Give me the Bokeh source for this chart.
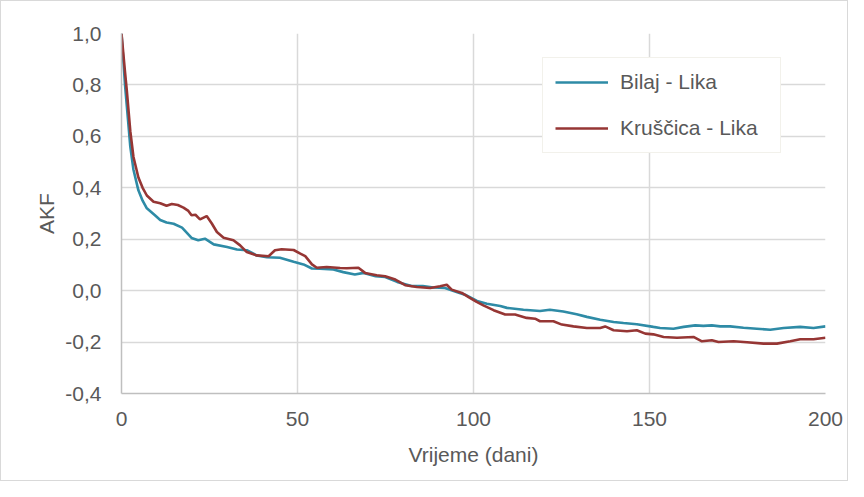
from bokeh.plotting import figure
from bokeh.models import Range1d, FixedTicker, CustomJSTickFormatter, Legend, LegendItem
from bokeh.embed import file_html
from bokeh.resources import INLINE

# Data
bilaj_days = [0, 1, 1.5, 2.5, 3.4, 4.8, 6, 7.2, 9.5, 11, 12.8, 14.8, 17.2, 19.9, 21.8, 23.7,
              26.2, 30, 32.8, 35.6, 38.4, 41.3, 45, 48.9, 51.7, 54.1, 56.4, 60.2, 63, 66.3,
              68.8, 72.2, 74.9, 78.3, 82.4, 85.6, 88.6, 91.9, 95.2, 98, 101, 103.8, 107.6,
              109.5, 114.2, 118.9, 121.7, 125.5, 129.3, 132.2, 136, 139.8, 142.6, 146.4,
              151.1, 153, 156.8, 159.7, 163, 165.3, 167.7, 170.1, 172.9, 176.7, 180.5,
              184.3, 188.1, 192.8, 196.6, 200]
bilaj_akf = [1.0, 0.80, 0.72, 0.56, 0.47, 0.39, 0.35, 0.32, 0.293, 0.275, 0.265, 0.26, 0.245,
             0.205, 0.196, 0.202, 0.18, 0.17, 0.16, 0.157, 0.137, 0.13, 0.128, 0.112, 0.102,
             0.086, 0.085, 0.082, 0.072, 0.063, 0.069, 0.056, 0.053, 0.034, 0.018, 0.018,
             0.012, 0.010, -0.005, -0.018, -0.040, -0.051, -0.060, -0.067, -0.074, -0.079,
             -0.074, -0.081, -0.092, -0.102, -0.113, -0.122, -0.126, -0.131, -0.141, -0.145,
             -0.148, -0.141, -0.135, -0.137, -0.135, -0.139, -0.139, -0.144, -0.148, -0.152,
             -0.145, -0.141, -0.145, -0.139]

kruscica_days = [0, 1, 1.5, 2.5, 3.4, 4.8, 6, 7.2, 9.1, 11, 12.8, 14.3, 16, 17.6, 19, 19.9,
                 21, 22.3, 24.2, 25.7, 27.1, 29, 31.8, 33.7, 35.6, 38.4, 41.8, 43.6, 45.5,
                 48.9, 50.8, 52.2, 54.1, 55.5, 58.3, 62.1, 64, 67.3, 69.2, 72.5, 74.9, 77.8,
                 80.6, 83.9, 87.7, 90.5, 92.4, 93.8, 96.7, 98.6, 100.9, 102.8, 105.7, 109,
                 111.8, 115.1, 117.5, 118.9, 122.7, 125.1, 128.4, 132.2, 136, 137.4, 139.8,
                 143.6, 146.4, 148.8, 151.1, 154, 157.8, 162.5, 164.9, 167.7, 169.6, 173.9,
                 177.7, 182.4, 186.2, 190, 192.8, 196.6, 200]
kruscica_akf = [1.0, 0.85, 0.78, 0.62, 0.52, 0.44, 0.40, 0.37, 0.346, 0.34, 0.33, 0.337, 0.333,
                0.323, 0.31, 0.293, 0.295, 0.277, 0.29, 0.26, 0.228, 0.206, 0.196, 0.176,
                0.15, 0.137, 0.134, 0.157, 0.161, 0.158, 0.144, 0.134, 0.102, 0.089, 0.092,
                0.088, 0.087, 0.089, 0.069, 0.06, 0.056, 0.043, 0.021, 0.014, 0.01, 0.017,
                0.023, 0.004, -0.009, -0.025, -0.044, -0.057, -0.076, -0.093, -0.093, -0.106,
                -0.109, -0.119, -0.119, -0.132, -0.139, -0.145, -0.145, -0.139, -0.154,
                -0.158, -0.154, -0.167, -0.17, -0.18, -0.183, -0.18, -0.197, -0.193, -0.2,
                -0.197, -0.201, -0.206, -0.206, -0.197, -0.189, -0.189, -0.183]

x_ticks = [0, 50, 100, 150, 200]
y_ticks = [-0.4, -0.2, 0.0, 0.2, 0.4, 0.6, 0.8, 1.0]
series_names = ["Bilaj - Lika", "Kruščica - Lika"]
x_title = "Vrijeme (dani)"
y_title = "AKF"

TEXT = "#595959"
FONT = "Liberation Sans"
FS = "21px"

p = figure(width=848, height=481, output_backend="svg", toolbar_location=None,
           x_range=Range1d(0, 200), y_range=Range1d(-0.4, 1.0),
           min_border_left=120, min_border_right=24, min_border_top=32, min_border_bottom=89)
p.outline_line_color = None
p.styles = {"border": "1px solid #d9d9d9", "box-sizing": "border-box"}

r1 = p.line(bilaj_days, bilaj_akf, line_color="#2E8BA6", line_width=2.6)
r2 = p.line(kruscica_days, kruscica_akf, line_color="#963634", line_width=2.6)

for ax in (p.xaxis[0], p.yaxis[0]):
    ax.axis_line_color = "#bfbfbf"
    ax.axis_line_width = 1.5
    ax.major_tick_line_color = None
    ax.minor_tick_line_color = None
    ax.major_label_text_font = FONT
    ax.major_label_text_font_size = FS
    ax.major_label_text_color = TEXT
    ax.axis_label_text_font = FONT
    ax.axis_label_text_font_size = FS
    ax.axis_label_text_color = TEXT
    ax.axis_label_text_font_style = "normal"

p.xaxis.ticker = FixedTicker(ticks=x_ticks)
p.yaxis.ticker = FixedTicker(ticks=y_ticks)
p.yaxis.formatter = CustomJSTickFormatter(
    code="var v = Math.abs(tick) < 1e-9 ? 0 : tick; return v.toFixed(1).replace('.', ',');")
p.xaxis.axis_label = x_title
p.yaxis.axis_label = y_title
p.xaxis.major_label_standoff = 12
p.yaxis.major_label_standoff = 14
p.xaxis.axis_label_standoff = 14
p.yaxis.axis_label_standoff = 4

p.xgrid.ticker = FixedTicker(ticks=x_ticks)
p.ygrid.ticker = FixedTicker(ticks=y_ticks)
p.grid.grid_line_color = "#d9d9d9"
p.grid.grid_line_width = 1.5

legend = Legend(items=[LegendItem(label=series_names[0], renderers=[r1]),
                       LegendItem(label=series_names[1], renderers=[r2])],
                location=(421, 240), orientation="vertical")
legend.glyph_width = 53
legend.glyph_height = 20
legend.label_height = 20
legend.label_width = 148
legend.label_standoff = 12
legend.spacing = 22
legend.padding = 12
legend.margin = 0
legend.label_text_font = FONT
legend.label_text_font_size = FS
legend.label_text_color = TEXT
legend.border_line_color = "#e6e3d8"
legend.border_line_width = 1.5
legend.background_fill_color = "white"
legend.background_fill_alpha = 1.0
p.add_layout(legend, "center")

open("out.html", "w").write(file_html(p, INLINE))
